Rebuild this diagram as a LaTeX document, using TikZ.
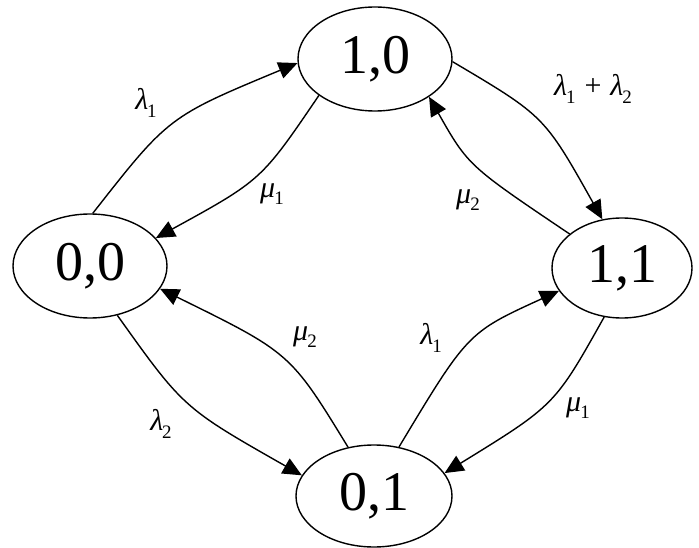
\documentclass[tikz,border=0pt]{standalone}
\usepackage{fontspec}
\setmainfont{Liberation Serif}
\usetikzlibrary{shapes.geometric,arrows.meta}
\newcommand{\gl}[2]{\textit{#1}\kern-1pt\raisebox{-0.25em}{\fontsize{19}{19}\selectfont #2}}
\tikzset{
  state/.style={ellipse, draw, line width=1.4pt, inner sep=0pt,
    font=\fontsize{56}{56}\selectfont},
  conn/.style={line width=1.4pt, -{Triangle[length=19pt,width=17pt]}},
  lab/.style={inner sep=0pt, font=\fontsize{30}{30}\selectfont}
}
\begin{document}
\begin{tikzpicture}[x=1pt,y=1pt]
\useasboundingbox (0,0) rectangle (699,-548);
\node[state, minimum width=154, minimum height=104] (n10) at (375,-59) {1,0};
\node[state, minimum width=154, minimum height=104] (n00) at (90,-266) {0,0};
\node[state, minimum width=140, minimum height=100] (n11) at (622,-268) {1,1};
\node[state, minimum width=156, minimum height=102] (n01) at (374,-496) {0,1};

\draw[conn] (n00.87) .. controls (168.5,-116.7) .. (n10.183);
\draw[conn] (n10.213) .. controls (261.3,-180.2) .. (n00.23);
\draw[conn] (n10.358) .. controls (544.3,-116) .. (n11.112);
\draw[conn] (n11.147) .. controls (468.2,-165.7) .. (n10.325);
\draw[conn] (n00.299) .. controls (183.5,-408) .. (n01.164.5);
\draw[conn] (n01.118.4) .. controls (290.3,-352.8) .. (n00.342);
\draw[conn] (n01.63.4) .. controls (467.8,-332.5) .. (n11.200.5);
\draw[conn] (n11.250) .. controls (554.8,-405.2) .. (n01.18.9);

\node[lab] (la) at (146,-103) {\gl{λ}{1}};
\node[lab] (lb) at (272,-194) {\gl{μ}{1}};
\node[lab] (lc) at (593,-89) {\gl{λ}{1}\hspace{9pt}+\hspace{9pt}\gl{λ}{2}};
\node[lab] (ld) at (468,-200) {\gl{μ}{2}};
\node[lab] (le) at (161,-424) {\gl{λ}{2}};
\node[lab] (lf) at (305,-337) {\gl{μ}{2}};
\node[lab] (lg) at (431,-338) {\gl{λ}{1}};
\node[lab] (lh) at (578,-408) {\gl{μ}{1}};
\end{tikzpicture}
\end{document}
